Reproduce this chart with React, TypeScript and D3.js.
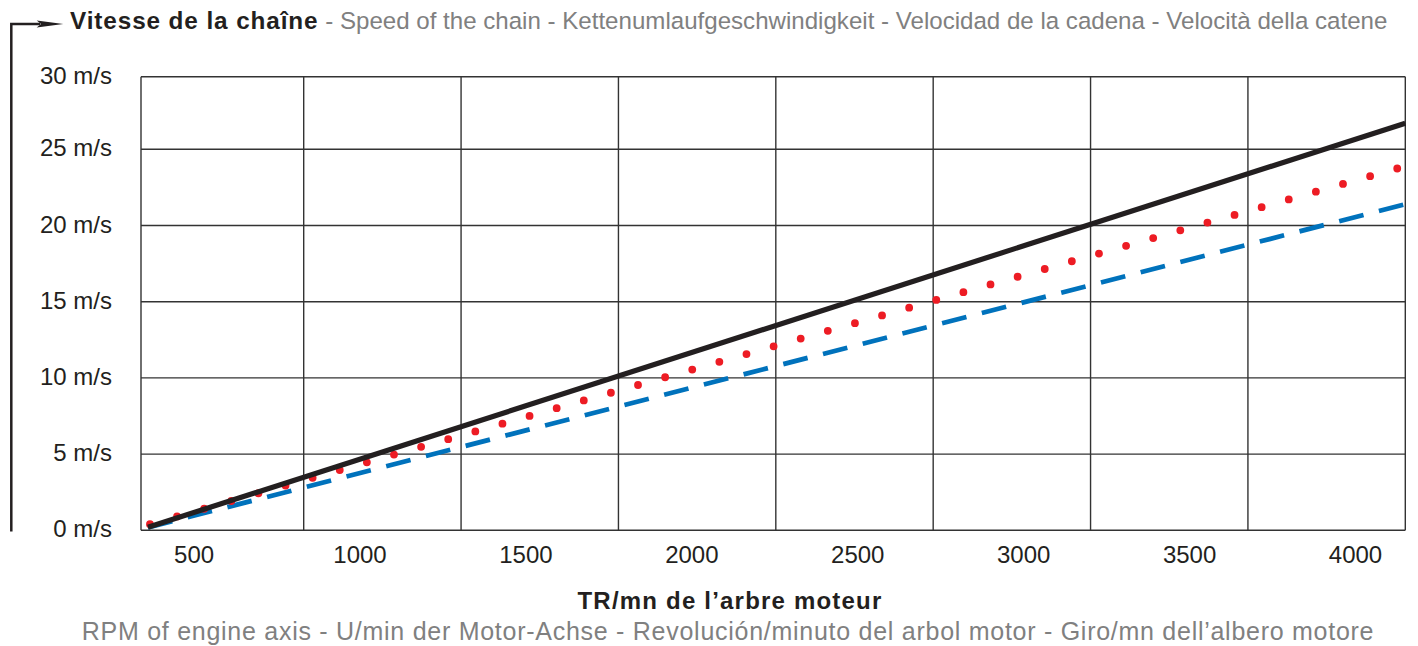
import { useEffect, useRef } from "react";
import * as d3 from "d3";

// axis ticks
const rpmTicks = [500, 1000, 1500, 2000, 2500, 3000, 3500, 4000];
const speedTicks = [0, 5, 10, 15, 20, 25, 30];
const gridColumns = [0, 1, 2, 3, 4, 5, 6, 7, 8];

// series (rpm, m/s)
const solidRpm = [361, 4150];
const solidSpeed = [0.2, 26.8];
const dottedRpm = [367, 4127];
const dottedSpeed = [0.4, 23.75];
const dashedRpm = [361, 4150];
const dashedSpeed = [0.18, 21.4];

const titleMain = "Vitesse de la chaîne";
const titleRest =
  " - Speed of the chain - Kettenumlaufgeschwindigkeit - Velocidad de la cadena - Velocità della catene";
const xTitle = "TR/mn de l’arbre moteur";
const xSubtitle =
  "RPM of engine axis - U/min der Motor-Achse - Revolución/minuto del arbol motor - Giro/mn dell’albero motore";

const FONT = "'Liberation Sans', Arial, Helvetica, sans-serif";
const INK = "#231f20";
const GREY = "#808080";

function SpeedChart() {
  const chartRef = useRef<HTMLDivElement>(null);

  useEffect(() => {
    document.body.style.margin = "0";
    d3.select(chartRef.current).selectAll("*").remove();

    const width = 1418;
    const height = 646;
    const plot = { left: 141, right: 1405.3, top: 76.7, bottom: 530.3 };

    const svg = d3
      .select(chartRef.current)
      .append("svg")
      .attr("width", width)
      .attr("height", height)
      .style("display", "block")
      .style("font-family", FONT);

    const x = d3.scaleLinear().domain([340, 4150]).range([plot.left, plot.right]);
    const y = d3
      .scaleLinear()
      .domain([0, 25, 30])
      .range([plot.bottom, 149.3, plot.top]);
    const gx = d3
      .scaleLinear()
      .domain([0, 1, 8])
      .range([plot.left, 303.7, plot.right]);

    // grid
    const grid = svg.append("g").attr("stroke", "#333").attr("stroke-width", 1.4);
    grid
      .selectAll("line.h")
      .data(speedTicks)
      .enter()
      .append("line")
      .attr("x1", plot.left)
      .attr("x2", plot.right)
      .attr("y1", (d) => y(d))
      .attr("y2", (d) => y(d));
    grid
      .selectAll("line.v")
      .data(gridColumns)
      .enter()
      .append("line")
      .attr("x1", (d) => gx(d))
      .attr("x2", (d) => gx(d))
      .attr("y1", plot.top)
      .attr("y2", plot.bottom);

    // y labels
    svg
      .append("g")
      .selectAll("text")
      .data(speedTicks)
      .enter()
      .append("text")
      .attr("x", 112)
      .attr("y", (d) => y(d) + 7)
      .attr("text-anchor", "end")
      .attr("font-size", 24)
      .attr("fill", INK)
      .text((d) => `${d} m/s`);

    // x labels
    svg
      .append("g")
      .selectAll("text")
      .data(rpmTicks)
      .enter()
      .append("text")
      .attr("x", (d) => x(d))
      .attr("y", 562.7)
      .attr("text-anchor", "middle")
      .attr("font-size", 24)
      .attr("fill", INK)
      .text((d) => d);

    const line = d3
      .line<[number, number]>()
      .x((d) => x(d[0]))
      .y((d) => y(d[1]));

    // dashed blue
    svg
      .append("path")
      .attr("d", line(dashedRpm.map((r, i) => [r, dashedSpeed[i]])))
      .attr("fill", "none")
      .attr("stroke", "#0072bc")
      .attr("stroke-width", 4.7)
      .attr("stroke-dasharray", "25.1 15.9");

    // dotted red
    const dotted = svg
      .append("path")
      .attr("d", line(dottedRpm.map((r, i) => [r, dottedSpeed[i]])))
      .attr("fill", "none")
      .attr("stroke", "#ed1c24")
      .attr("stroke-width", 7.8)
      .attr("stroke-linecap", "round");
    const len = (dotted.node() as SVGPathElement).getTotalLength();
    dotted.attr("stroke-dasharray", `0 ${len / 46 - 0.01}`);

    // solid black
    svg
      .append("path")
      .attr("d", line(solidRpm.map((r, i) => [r, solidSpeed[i]])))
      .attr("fill", "none")
      .attr("stroke", INK)
      .attr("stroke-width", 5.2);

    // bracket with arrow
    svg
      .append("path")
      .attr("d", "M11.3,531.5 V24 H40")
      .attr("fill", "none")
      .attr("stroke", INK)
      .attr("stroke-width", 2.5);
    svg
      .append("path")
      .attr("d", "M36.7,20.5 L63.3,24 L36.7,27.5 L41,24 Z")
      .attr("fill", INK);

    // title
    const title = svg.append("text").attr("x", 70).attr("y", 29.3);
    title
      .append("tspan")
      .attr("font-size", 24.3)
      .attr("font-weight", "bold")
      .attr("letter-spacing", 0.9)
      .attr("fill", INK)
      .text(titleMain);
    title
      .append("tspan")
      .attr("font-size", 24.1)
      .attr("fill", GREY)
      .text(titleRest);

    // axis titles
    svg
      .append("text")
      .attr("x", 730)
      .attr("y", 609.3)
      .attr("text-anchor", "middle")
      .attr("font-size", 24)
      .attr("font-weight", "bold")
      .attr("letter-spacing", 1.2)
      .attr("fill", INK)
      .text(xTitle);
    svg
      .append("text")
      .attr("x", 728)
      .attr("y", 640)
      .attr("text-anchor", "middle")
      .attr("font-size", 25)
      .attr("letter-spacing", 0.73)
      .attr("fill", GREY)
      .text(xSubtitle);
  }, []);

  return <div ref={chartRef} />;
}

export default function App() {
  return <SpeedChart />;
}
